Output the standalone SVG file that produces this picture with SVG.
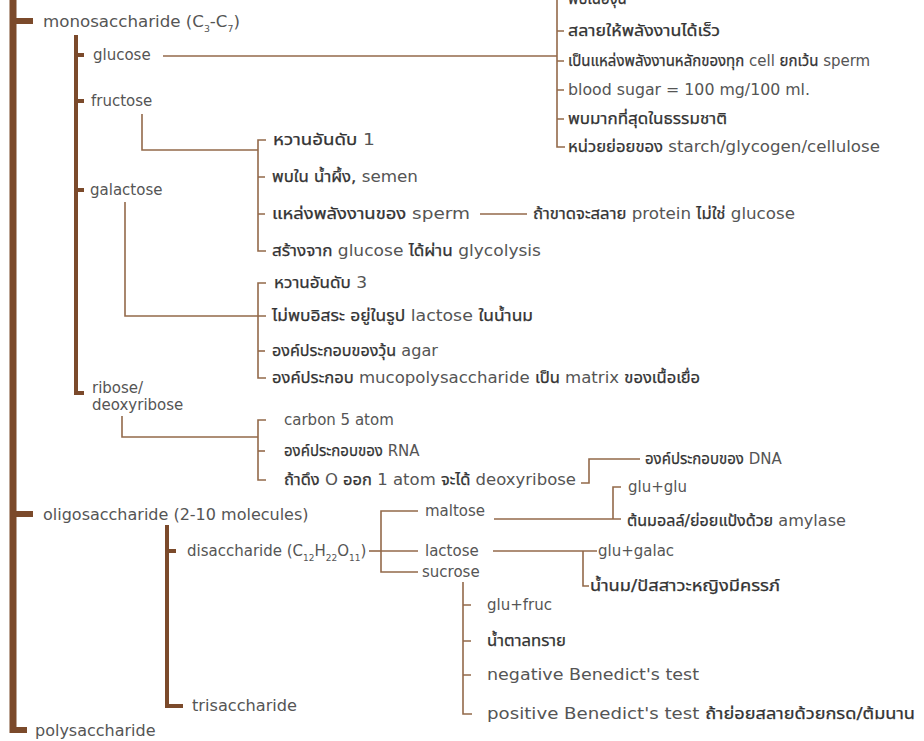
<svg xmlns="http://www.w3.org/2000/svg" width="924" height="741" viewBox="0 0 924 741">
  <style>
    .bg { fill: #ffffff; }
    .trunk { stroke: #7b4a2b; stroke-width: 7; fill: none; }
    .stub { stroke: #7b4a2b; stroke-width: 6; fill: none; }
    .branch { stroke: #7b4a2b; stroke-width: 4; fill: none; }
    .thin { stroke: #93694a; stroke-width: 1.6; fill: none; }
    text { font-family: "DejaVu Sans", "Noto Sans Thai", "Noto Sans", sans-serif; font-size: 15px; fill: #555555; }
    .big { font-size: 16px; }
    .sub { font-size: 9px; }
    .th { fill: #333333; stroke: #333333; stroke-width: 0.25; }
  </style>
  <rect class="bg" x="0" y="0" width="924" height="741"/>

  <g id="connectors">
    <!-- main trunk and first-level stubs -->
    <line class="trunk" x1="13" y1="0" x2="13" y2="733"/>
    <line class="stub" x1="13" y1="21" x2="33" y2="21"/>
    <line class="stub" x1="13" y1="514" x2="33" y2="514"/>
    <line class="stub" x1="13" y1="730" x2="27" y2="730"/>

    <!-- monosaccharide branch -->
    <path class="branch" d="M76 35 V393 H84"/>
    <line class="branch" x1="76" y1="55" x2="84" y2="55"/>
    <line class="branch" x1="76" y1="101" x2="84" y2="101"/>
    <line class="branch" x1="76" y1="190" x2="84" y2="190"/>

    <!-- glucose -->
    <line class="thin" x1="163" y1="56" x2="557" y2="56"/>
    <path class="thin" d="M557 0 V147 H565"/>
    <path class="thin" d="M557 31 H564 M557 61 H564 M557 90 H564 M557 119 H564"/>

    <!-- fructose -->
    <path class="thin" d="M142 114 V150 H258"/>
    <path class="thin" d="M266 140 H258 V251 H266"/>
    <path class="thin" d="M258 177 H265 M258 214 H265"/>
    <line class="thin" x1="480" y1="214" x2="527" y2="214"/>

    <!-- galactose -->
    <path class="thin" d="M125 202 V316 H266"/>
    <path class="thin" d="M266 283 H258 V378 H266"/>
    <path class="thin" d="M258 351 H265"/>

    <!-- ribose / deoxyribose -->
    <path class="thin" d="M122 416 V437 H258"/>
    <path class="thin" d="M266 420 H258 V480 H266"/>
    <path class="thin" d="M258 451 H265"/>
    <path class="thin" d="M581 483 H589 V459 H640"/>

    <!-- oligosaccharide branch -->
    <path class="branch" d="M167 525 V706 H183"/>
    <line class="branch" x1="167" y1="551" x2="176" y2="551"/>

    <!-- disaccharide -->
    <line class="thin" x1="369" y1="551" x2="381" y2="551"/>
    <path class="thin" d="M418 511 H381 V572 H418"/>
    <line class="thin" x1="381" y1="551" x2="418" y2="551"/>

    <!-- maltose -->
    <path class="thin" d="M494 519 H621"/>
    <path class="thin" d="M621 487 H613 V519"/>

    <!-- lactose -->
    <line class="thin" x1="493" y1="551" x2="597" y2="551"/>
    <path class="thin" d="M583 551 V586 H589"/>

    <!-- sucrose -->
    <path class="thin" d="M463 582 V714 H472"/>
    <path class="thin" d="M463 605 H471 M463 641 H471 M463 675 H471"/>
  </g>

  <g id="monosaccharide"><text class="big" x="43" y="27" textLength="197" lengthAdjust="spacingAndGlyphs">monosaccharide (C<tspan class="sub" dy="5">3</tspan><tspan dy="-5">-C</tspan><tspan class="sub" dy="5">7</tspan><tspan dy="-5">)</tspan></text></g>
  <g id="oligosaccharide"><text class="big" x="43" y="520">oligosaccharide (2-10 molecules)</text></g>
  <g id="polysaccharide"><text class="big" x="35" y="736">polysaccharide</text></g>

  <g id="glucose"><text x="93" y="60">glucose</text></g>
  <g id="glucose-notes">
    <text x="568" y="4"><tspan class="th">พบในองุ่น</tspan></text>
    <text x="568" y="36" textLength="152" lengthAdjust="spacingAndGlyphs"><tspan class="th">สลายให้พลังงานได้เร็ว</tspan></text>
    <text x="568" y="66"><tspan class="th">เป็นแหล่งพลังงานหลักของทุก</tspan> cell <tspan class="th">ยกเว้น</tspan> sperm</text>
    <text x="568" y="95" textLength="242" lengthAdjust="spacingAndGlyphs">blood sugar = 100 mg/100 ml.</text>
    <text x="568" y="124" textLength="159" lengthAdjust="spacingAndGlyphs"><tspan class="th">พบมากที่สุดในธรรมชาติ</tspan></text>
    <text x="568" y="152" textLength="312" lengthAdjust="spacingAndGlyphs"><tspan class="th">หน่วยย่อยของ</tspan> starch/glycogen/cellulose</text>
  </g>

  <g id="fructose"><text x="91" y="106">fructose</text></g>
  <g id="fructose-notes">
    <text x="273" y="145" textLength="102" lengthAdjust="spacingAndGlyphs"><tspan class="th">หวานอันดับ</tspan> 1</text>
    <text x="272" y="182" textLength="146" lengthAdjust="spacingAndGlyphs"><tspan class="th">พบใน น้ำผึ้ง,</tspan> semen</text>
    <text x="272" y="219" textLength="198" lengthAdjust="spacingAndGlyphs"><tspan class="th">แหล่งพลังงานของ</tspan> sperm</text>
    <text x="533" y="219" textLength="262" lengthAdjust="spacingAndGlyphs"><tspan class="th">ถ้าขาดจะสลาย</tspan> protein <tspan class="th">ไม่ใช่</tspan> glucose</text>
    <text x="272" y="256" textLength="269" lengthAdjust="spacingAndGlyphs"><tspan class="th">สร้างจาก</tspan> glucose <tspan class="th">ได้ผ่าน</tspan> glycolysis</text>
  </g>

  <g id="galactose"><text x="90" y="195">galactose</text></g>
  <g id="galactose-notes">
    <text x="274" y="288" textLength="93" lengthAdjust="spacingAndGlyphs"><tspan class="th">หวานอันดับ</tspan> 3</text>
    <text x="272" y="321" textLength="261" lengthAdjust="spacingAndGlyphs"><tspan class="th">ไม่พบอิสระ  อยู่ในรูป</tspan> lactose <tspan class="th">ในน้ำนม</tspan></text>
    <text x="272" y="356" textLength="166" lengthAdjust="spacingAndGlyphs"><tspan class="th">องค์ประกอบของวุ้น</tspan> agar</text>
    <text x="272" y="383" textLength="428" lengthAdjust="spacingAndGlyphs"><tspan class="th">องค์ประกอบ</tspan> mucopolysaccharide <tspan class="th">เป็น</tspan> matrix <tspan class="th">ของเนื้อเยื่อ</tspan></text>
  </g>

  <g id="ribose"><text x="92" y="393">ribose/</text><text x="92" y="410">deoxyribose</text></g>
  <g id="ribose-notes">
    <text x="284" y="425">carbon 5 atom</text>
    <text x="284" y="456"><tspan class="th">องค์ประกอบของ</tspan> RNA</text>
    <text x="284" y="485" textLength="292" lengthAdjust="spacingAndGlyphs"><tspan class="th">ถ้าดึง</tspan> O <tspan class="th">ออก</tspan> 1 atom <tspan class="th">จะได้</tspan> deoxyribose</text>
    <text x="645" y="464"><tspan class="th">องค์ประกอบของ</tspan> DNA</text>
  </g>

  <g id="disaccharide"><text x="187" y="556">disaccharide (C<tspan class="sub" dy="5">12</tspan><tspan dy="-5">H</tspan><tspan class="sub" dy="5">22</tspan><tspan dy="-5">O</tspan><tspan class="sub" dy="5">11</tspan><tspan dy="-5">)</tspan></text></g>
  <g id="trisaccharide"><text x="192" y="711" textLength="105" lengthAdjust="spacingAndGlyphs">trisaccharide</text></g>

  <g id="maltose"><text x="425" y="516">maltose</text></g>
  <g id="maltose-notes">
    <text x="628" y="492">glu+glu</text>
    <text x="627" y="526" textLength="219" lengthAdjust="spacingAndGlyphs"><tspan class="th">ต้นมอลล์/ย่อยแป้งด้วย</tspan> amylase</text>
  </g>

  <g id="lactose"><text x="425" y="556">lactose</text></g>
  <g id="lactose-notes">
    <text x="598" y="556">glu+galac</text>
    <text x="590" y="591" textLength="190" lengthAdjust="spacingAndGlyphs"><tspan class="th">น้ำนม/ปัสสาวะหญิงมีครรภ์</tspan></text>
  </g>

  <g id="sucrose"><text x="422" y="577">sucrose</text></g>
  <g id="sucrose-notes">
    <text x="487" y="610">glu+fruc</text>
    <text x="487" y="646" textLength="79" lengthAdjust="spacingAndGlyphs"><tspan class="th">น้ำตาลทราย</tspan></text>
    <text x="487" y="680" textLength="212" lengthAdjust="spacingAndGlyphs">negative Benedict's test</text>
    <text x="487" y="719" textLength="428" lengthAdjust="spacingAndGlyphs">positive Benedict's test <tspan class="th">ถ้าย่อยสลายด้วยกรด/ต้มนาน</tspan></text>
  </g>
</svg>
